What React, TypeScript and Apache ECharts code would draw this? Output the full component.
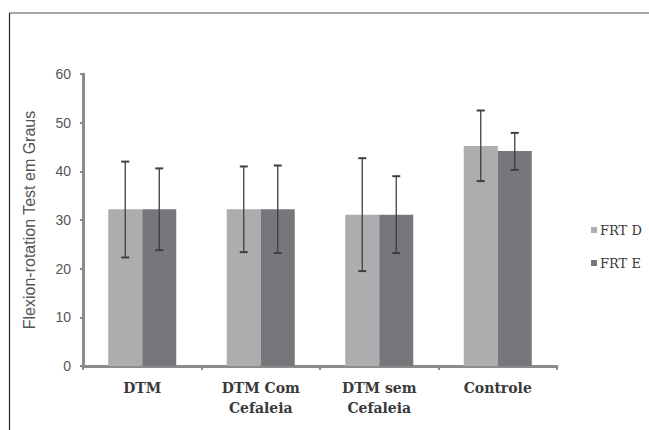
import React, { useEffect, useRef } from "react";
import * as echarts from "echarts";

const categories = ["DTM", "DTM Com\nCefaleia", "DTM sem\nCefaleia", "Controle"];
const seriesNames = ["FRT D", "FRT E"];
const frtD = [32.2, 32.2, 31.1, 45.2];
const frtE = [32.2, 32.2, 31.1, 44.2];
const frtDLow = [22.3, 23.4, 19.5, 38.0];
const frtDHigh = [42.0, 41.0, 42.7, 52.5];
const frtELow = [23.8, 23.2, 23.2, 40.3];
const frtEHigh = [40.6, 41.2, 39.0, 47.9];
const yTicks = { min: 0, max: 60, interval: 10 };

const GAP = 0.426;

function errorSeries(low: number[], high: number[], side: number) {
  return {
    type: "custom",
    z: 10,
    silent: true,
    data: low.map((l, i) => [i, l, high[i]]),
    renderItem: (params: any, api: any) => {
      const catW = api.size([1, 0])[0];
      const barW = (catW * (1 - GAP)) / 2;
      const lo = api.coord([api.value(0), api.value(1)]);
      const hi = api.coord([api.value(0), api.value(2)]);
      const x = lo[0] + side * (barW / 2);
      const cap = 4;
      const style = { stroke: "#3f3f3f", lineWidth: 1.3 };
      return {
        type: "group",
        children: [
          { type: "line", shape: { x1: x, y1: lo[1], x2: x, y2: hi[1] }, style },
          { type: "line", shape: { x1: x - cap, y1: lo[1], x2: x + cap, y2: lo[1] }, style: { ...style, lineWidth: 2 } },
          { type: "line", shape: { x1: x - cap, y1: hi[1], x2: x + cap, y2: hi[1] }, style: { ...style, lineWidth: 2 } },
        ],
      };
    },
  };
}

export default function App() {
  const ref = useRef<HTMLDivElement>(null);
  useEffect(() => {
    if (!ref.current) return;
    const chart = echarts.init(ref.current, null, { renderer: "svg" });
    chart.setOption({
      animation: false,
      backgroundColor: "#ffffff",
      grid: { left: 83, right: 92, top: 74, bottom: 64 },
      legend: {
        orient: "vertical",
        left: 586,
        top: 217,
        icon: "rect",
        itemWidth: 6,
        itemHeight: 6,
        itemGap: 17,
        data: seriesNames,
        textStyle: {
          fontFamily: "DejaVu Serif",
          fontSize: 13,
          color: "#3a3a3a",
          lineHeight: 16,
          padding: [0, 0, 0, -2],
        },
      },
      xAxis: {
        type: "category",
        data: categories,
        axisLine: { lineStyle: { color: "#8c8c8c", width: 3 } },
        axisTick: { show: true, length: 4, lineStyle: { color: "#8c8c8c", width: 2 } },
        axisLabel: {
          fontFamily: "DejaVu Serif",
          fontWeight: "bold",
          fontSize: 14,
          lineHeight: 20,
          color: "#3a3a3a",
          margin: 12,
          interval: 0,
        },
      },
      yAxis: {
        type: "value",
        min: yTicks.min,
        max: yTicks.max,
        interval: yTicks.interval,
        name: "Flexion-rotation Test em Graus",
        nameLocation: "middle",
        nameGap: 46,
        nameTextStyle: { fontFamily: "Liberation Sans", fontSize: 16, color: "#555555" },
        splitLine: { show: false },
        axisLine: { show: true, lineStyle: { color: "#8c8c8c", width: 3 } },
        axisTick: { show: true, length: 3, lineStyle: { color: "#8c8c8c", width: 2 } },
        axisLabel: { fontFamily: "Liberation Sans", fontSize: 14, color: "#555555", margin: 12 },
      },
      series: [
        {
          name: seriesNames[0],
          type: "bar",
          data: frtD,
          barGap: "0%",
          barCategoryGap: GAP * 100 + "%",
          itemStyle: { color: "#abadaf" },
        },
        {
          name: seriesNames[1],
          type: "bar",
          data: frtE,
          itemStyle: { color: "#75777a" },
        },
        errorSeries(frtDLow, frtDHigh, -1),
        errorSeries(frtELow, frtEHigh, 1),
      ],
      graphic: [
        { type: "line", shape: { x1: 9, y1: 13, x2: 649, y2: 13 }, style: { stroke: "#8a8a8a", lineWidth: 1.5 } },
        { type: "line", shape: { x1: 9.5, y1: 13, x2: 9.5, y2: 430 }, style: { stroke: "#222222", lineWidth: 1.2 } },
      ],
    });
    return () => chart.dispose();
  }, []);
  return (
    <div
      ref={ref}
      style={{ position: "fixed", left: 0, top: 0, width: 649, height: 430 }}
    />
  );
}
